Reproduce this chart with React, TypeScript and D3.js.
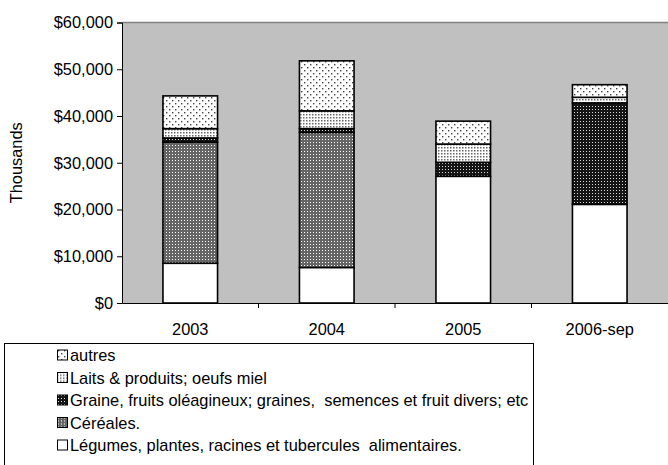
import { useRef, useEffect } from 'react';
import * as d3 from 'd3';

const years = ['2003', '2004', '2005', '2006-sep'];
// values in thousands of $
const legumes = [8500, 7600, 27100, 21100];
const cereales = [25900, 28900, 0, 0];
const graine = [900, 800, 3000, 21700];
const laits = [2000, 3800, 3900, 1200];
const autres = [7000, 10700, 4900, 2700];

const seriesNames = [
  'Légumes, plantes, racines et tubercules  alimentaires.',
  'Céréales.',
  'Graine, fruits oléagineux; graines,  semences et fruit divers; etc',
  'Laits & produits; oeufs miel',
  'autres',
];
const yTicks = [0, 10000, 20000, 30000, 40000, 50000, 60000];

const W = 668;
const H = 465;

export default function App() {
  const svgRef = useRef<SVGSVGElement>(null);

  useEffect(() => {
    const el = svgRef.current;
    if (!el) return;
    const svg = d3.select(el);
    svg.selectAll('*').remove();

    const font = 'Liberation Sans, Arial, sans-serif';
    const fs = 16.4;
    const left = 122, right = 668, top = 22.5, bottom = 303;

    // patterns
    const defs = svg.append('defs');
    const pat = (id: string, size: number, bg: string, dots: [number, number, number, string][]) => {
      const p = defs.append('pattern').attr('id', id).attr('width', size).attr('height', size)
        .attr('patternUnits', 'userSpaceOnUse');
      p.append('rect').attr('width', size).attr('height', size).attr('fill', bg);
      dots.forEach(([x, y, s, c]) => p.append('rect').attr('x', x).attr('y', y).attr('width', s).attr('height', s).attr('fill', c));
    };
    pat('p-leg', 4, '#fff', []);
    pat('p-cer', 3, '#666', [[1, 1, 1, '#fff']]);
    pat('p-gra', 3, '#151515', [[1, 1, 1, '#d8d8d8']]);
    pat('p-lai', 3, '#fff', [[0, 0, 1.5, '#666']]);
    pat('p-aut', 6, '#fff', [[1, 1, 1.4, '#444'], [4, 4, 1.4, '#444']]);
    const fills = ['url(#p-leg)', 'url(#p-cer)', 'url(#p-gra)', 'url(#p-lai)', 'url(#p-aut)'];

    const x = d3.scaleBand().domain(years).range([left, right]).paddingInner(0.6).paddingOuter(0.3);
    const xCat = d3.scaleBand().domain(years).range([left, right]);
    const y = d3.scaleLinear().domain([0, 60000]).range([bottom, top]);

    // plot area
    svg.append('rect').attr('x', left).attr('y', top).attr('width', right - left).attr('height', bottom - top)
      .attr('fill', '#c0c0c0');
    svg.append('line').attr('x1', left).attr('x2', right).attr('y1', top).attr('y2', top)
      .attr('stroke', '#808080').attr('stroke-width', 1.5);

    const rows = years.map((yr, i) => ({
      year: yr, s0: legumes[i], s1: cereales[i], s2: graine[i], s3: laits[i], s4: autres[i],
    }));
    const stack = d3.stack<any>().keys(['s0', 's1', 's2', 's3', 's4']);
    const layers = stack(rows);

    layers.forEach((layer, li) => {
      svg.append('g').selectAll('rect').data(layer.filter((d) => d[1] - d[0] > 0)).join('rect')
        .attr('x', (d) => x(d.data.year) ?? 0)
        .attr('width', x.bandwidth())
        .attr('y', (d) => y(d[1]))
        .attr('height', (d) => y(d[0]) - y(d[1]))
        .attr('fill', fills[li])
        .attr('stroke', '#000').attr('stroke-width', 1.6);
    });

    // y axis
    const yAxis = svg.append('g').attr('transform', `translate(${left},0)`)
      .call(d3.axisLeft(y).tickValues(yTicks).tickSize(5).tickPadding(4)
        .tickFormat((d) => '$' + d3.format(',')(d as number)));
    yAxis.select('.domain').attr('stroke', '#000');
    yAxis.selectAll('text').attr('font-family', font).attr('font-size', fs).attr('fill', '#000');

    // x axis
    const xAxis = svg.append('g').attr('transform', `translate(0,${bottom})`)
      .call(d3.axisBottom(xCat).tickSize(0).tickPadding(20).tickSizeOuter(0));
    xAxis.select('.domain').attr('stroke', '#000');
    xAxis.selectAll('text').attr('font-family', font).attr('font-size', fs).attr('fill', '#000');
    svg.append('g').selectAll('line').data(years.slice(1)).join('line')
      .attr('x1', (d) => xCat(d) ?? 0).attr('x2', (d) => xCat(d) ?? 0)
      .attr('y1', bottom).attr('y2', bottom + 5).attr('stroke', '#000');

    svg.append('text').attr('transform', `translate(22,${(top + bottom) / 2}) rotate(-90)`)
      .attr('text-anchor', 'middle').attr('font-family', font).attr('font-size', fs).text('Thousands');

    // legend
    svg.append('rect').attr('x', 4.5).attr('y', 343.5).attr('width', 529).attr('height', 140)
      .attr('fill', '#fff').attr('stroke', '#000');
    const order = [4, 3, 2, 1, 0];
    const lg = svg.append('g').selectAll('g').data(order).join('g')
      .attr('transform', (_, i) => `translate(57,${355 + i * 22.5})`);
    lg.append('rect').attr('x', 0.5).attr('y', -5).attr('width', 10).attr('height', 10)
      .attr('fill', (d) => fills[d]).attr('stroke', '#000');
    lg.append('text').attr('x', 13).attr('y', 6).attr('font-family', font).attr('font-size', fs)
      .style('white-space', 'pre')
      .text((d) => seriesNames[d]);
  }, []);

  return (
    <svg ref={svgRef} width={W} height={H}
      style={{ position: 'absolute', left: 0, top: 0, background: '#fff', display: 'block' }} />
  );
}
